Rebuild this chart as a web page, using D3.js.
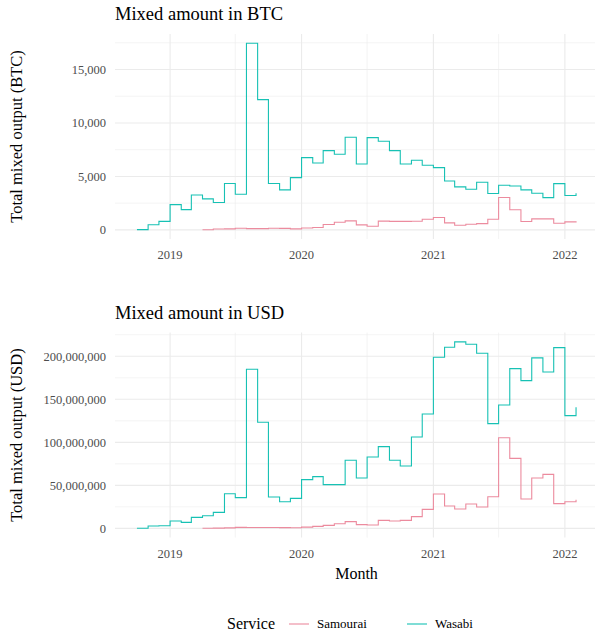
<!DOCTYPE html>
<html>
<head>
<meta charset="utf-8">
<script src="https://cdn.jsdelivr.net/npm/d3@7"></script>
<style>
  body { margin: 0; background: #fff; }
  svg { font-family: "Liberation Serif", "DejaVu Serif", serif; }
</style>
</head>
<body>
<div id="viz-wrapper"></div>
<script>
  // size of the svg
  var width = 595,
      height = 634;

  // months (first of month) for each service
  var wasabiStart = "2018-10", samouraiStart = "2019-04";

  // monthly totals in BTC
  var wasabiBTC = [30, 480, 800,
    2360, 1900, 3270, 2900, 2560, 4340, 3340, 17450, 12180, 4340, 3740, 4890,
    6760, 6260, 7410, 7070, 8660, 6170, 8630, 8290, 7410, 6170, 6510, 6040,
    5820, 4580, 4020, 3800, 4450, 3400, 4180, 4110, 3740, 3430, 3020, 4330,
    3220, 3430];
  var samouraiBTC = [20, 80, 100, 150, 120, 120, 150, 140, 100,
    180, 230, 500, 720, 840, 470, 340, 820, 800, 800, 810, 1000,
    1160, 660, 440, 530, 590, 1000, 3030, 1880, 780, 1030, 1030, 620,
    750, 810];

  // monthly totals in USD (millions)
  var wasabiUSD = [0.1, 2.7, 3.1,
    8.5, 7.0, 12.8, 14.7, 18.6, 40.3, 35.7, 184.9, 123.3, 36.4, 31.0, 34.9,
    56.6, 60.1, 50.8, 50.8, 79.1, 58.5, 82.9, 95.0, 79.1, 72.5, 106.2, 132.9,
    198.8, 210.5, 216.7, 214.0, 203.5, 121.7, 143.4, 185.7, 171.7, 198.1, 181.8, 210.1,
    131.0, 140.7];
  var samouraiUSD = [0.2, 0.3, 0.6, 1.2, 1.0, 1.0, 1.0, 0.9, 0.8,
    1.5, 2.3, 3.5, 5.4, 7.8, 4.3, 3.9, 9.3, 8.5, 9.3, 13.6, 22.1,
    39.9, 26.0, 22.5, 28.3, 24.8, 36.8, 105.4, 81.4, 34.1, 58.5, 62.8, 28.7,
    31.0, 33.3];

  var services = ["Samourai", "Wasabi"];
  var colors = {"Samourai": "#ec8b9e", "Wasabi": "#17c1b4"};
  var xTicks = ["2019", "2020", "2021", "2022"];

  var parseMonth = d3.utcParse("%Y-%m");

  // turns a list of values into {date, value} starting at a month
  function series(start, values, mult) {
    var d0 = parseMonth(start);
    return values.map(function(v, i) {
      return {date: d3.utcMonth.offset(d0, i), value: v * mult};
    });
  }

  var panels = [
    {title: "Mixed amount in BTC", ylab: "Total mixed output (BTC)", top: 34, bottom: 239,
     step: 5000, data: {"Samourai": series(samouraiStart, samouraiBTC, 1), "Wasabi": series(wasabiStart, wasabiBTC, 1)}},
    {title: "Mixed amount in USD", ylab: "Total mixed output (USD)", top: 332.6, bottom: 537.6,
     step: 50000000, data: {"Samourai": series(samouraiStart, samouraiUSD, 1e6), "Wasabi": series(wasabiStart, wasabiUSD, 1e6)}}
  ];

  var left = 115, right = 598;

  var viz = d3.select("#viz-wrapper")
    .append("svg")
    .attr("width", width)
    .attr("height", height);

  // shared x scale, with ggplot style 5% padding
  var allDates = [];
  panels[0].data.Wasabi.forEach(function(d) { allDates.push(d.date); });
  var xExt = d3.extent(allDates);
  var xPad = (xExt[1] - xExt[0]) * 0.05;
  var x = d3.scaleUtc()
    .domain([new Date(+xExt[0] - xPad), new Date(+xExt[1] + xPad)])
    .range([left, right]);

  var majorX = xTicks.map(function(t) { return d3.utcParse("%Y")(t); });
  var minorX = [];
  for (var i = 0; i < majorX.length - 1; i++) minorX.push(d3.utcMonth.offset(majorX[i], 6));

  panels.forEach(function(p) {
    var vals = [];
    services.forEach(function(s) { p.data[s].forEach(function(d) { vals.push(d.value); }); });
    var yExt = d3.extent(vals);
    var yPad = (yExt[1] - yExt[0]) * 0.05;
    var y = d3.scaleLinear()
      .domain([yExt[0] - yPad, yExt[1] + yPad])
      .range([p.bottom, p.top]);

    var g = viz.append("g");

    var majorY = d3.range(0, yExt[1] + yPad, p.step);
    var minorY = d3.range(p.step / 2, yExt[1] + yPad, p.step);

    // grid
    g.selectAll(".minory").data(minorY).enter().append("line")
      .attr("x1", left).attr("x2", right)
      .attr("y1", function(d) { return y(d); }).attr("y2", function(d) { return y(d); })
      .attr("stroke", "#ececec").attr("stroke-width", 0.6);
    g.selectAll(".minorx").data(minorX).enter().append("line")
      .attr("x1", function(d) { return x(d); }).attr("x2", function(d) { return x(d); })
      .attr("y1", p.top).attr("y2", p.bottom)
      .attr("stroke", "#ececec").attr("stroke-width", 0.6);
    g.selectAll(".majory").data(majorY).enter().append("line")
      .attr("x1", left).attr("x2", right)
      .attr("y1", function(d) { return y(d); }).attr("y2", function(d) { return y(d); })
      .attr("stroke", "#ebebeb").attr("stroke-width", 1.1);
    g.selectAll(".majorx").data(majorX).enter().append("line")
      .attr("x1", function(d) { return x(d); }).attr("x2", function(d) { return x(d); })
      .attr("y1", p.top).attr("y2", p.bottom)
      .attr("stroke", "#ebebeb").attr("stroke-width", 1.1);

    // y tick labels
    g.selectAll(".ylab").data(majorY).enter().append("text")
      .attr("x", 106).attr("y", function(d) { return y(d); })
      .attr("dy", "0.35em")
      .attr("text-anchor", "end")
      .attr("font-size", 12.5).attr("fill", "#4d4d4d")
      .text(d3.format(","));

    // x tick labels
    g.selectAll(".xlab").data(majorX).enter().append("text")
      .attr("x", function(d) { return x(d); }).attr("y", p.bottom + 20)
      .attr("text-anchor", "middle")
      .attr("font-size", 12.5).attr("fill", "#4d4d4d")
      .text(d3.utcFormat("%Y"));

    // step lines
    var line = d3.line()
      .x(function(d) { return x(d.date); })
      .y(function(d) { return y(d.value); })
      .curve(d3.curveStepAfter);

    services.forEach(function(s) {
      g.append("path")
        .datum(p.data[s])
        .attr("fill", "none")
        .attr("stroke", colors[s])
        .attr("stroke-width", 1.1)
        .attr("d", line);
    });

    // titles
    g.append("text")
      .attr("x", left).attr("y", p.top - 14)
      .attr("font-size", 18.5).attr("fill", "#000")
      .text(p.title);

    g.append("text")
      .attr("transform", "translate(22," + (p.top + p.bottom) / 2 + ") rotate(-90)")
      .attr("text-anchor", "middle")
      .attr("font-size", 16.5).attr("fill", "#000")
      .text(p.ylab);
  });

  // x axis title
  viz.append("text")
    .attr("x", (left + right) / 2).attr("y", 579)
    .attr("text-anchor", "middle")
    .attr("font-size", 16)
    .text("Month");

  // legend
  var legend = viz.append("g").attr("transform", "translate(227,629)");
  legend.append("text").attr("x", 0).attr("y", 0).attr("font-size", 16).text("Service");
  var keyX = [62, 180];
  services.forEach(function(s, i) {
    legend.append("line")
      .attr("x1", keyX[i]).attr("x2", keyX[i] + 20)
      .attr("y1", -5).attr("y2", -5)
      .attr("stroke", colors[s]).attr("stroke-width", 1.1);
    legend.append("text")
      .attr("x", keyX[i] + 28).attr("y", -1)
      .attr("font-size", 13)
      .text(s);
  });
</script>
</body>
</html>
